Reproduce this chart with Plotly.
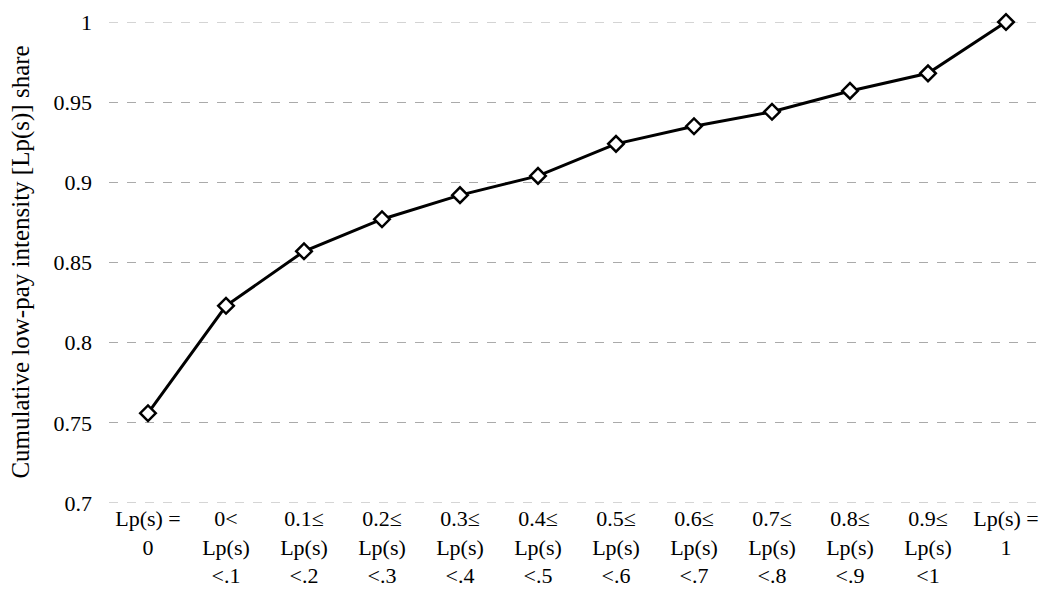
import plotly.graph_objects as go

categories = ["Lp(s) =<br>0", "0<<br>Lp(s)<br><.1", "0.1≤<br>Lp(s)<br><.2", "0.2≤<br>Lp(s)<br><.3",
              "0.3≤<br>Lp(s)<br><.4", "0.4≤<br>Lp(s)<br><.5", "0.5≤<br>Lp(s)<br><.6", "0.6≤<br>Lp(s)<br><.7",
              "0.7≤<br>Lp(s)<br><.8", "0.8≤<br>Lp(s)<br><.9", "0.9≤<br>Lp(s)<br><1", "Lp(s) =<br>1"]
values = [0.756, 0.823, 0.857, 0.877, 0.892, 0.904, 0.924, 0.935, 0.944, 0.957, 0.968, 1.0]
y_ticks = [0.7, 0.75, 0.8, 0.85, 0.9, 0.95, 1.0]
y_ticklabels = ["0.7", "0.75", "0.8", "0.85", "0.9", "0.95", "1"]
y_title = "Cumulative low-pay intensity [Lp(s)] share"
y_min, y_max = 0.7, 1.0

x_idx = list(range(len(categories)))
FONT = "Liberation Serif"

fig = go.Figure()
fig.add_trace(go.Scatter(
    x=x_idx, y=values, mode="lines+markers",
    line=dict(color="black", width=3),
    marker=dict(symbol="diamond", size=12, color="white", line=dict(color="black", width=2.5)),
    showlegend=False, cliponaxis=False,
))

# page body has an 8px margin, so the figure is offset by 8px in the window
fig.update_layout(
    width=1039, height=595,
    margin=dict(l=101, r=2, t=11, b=100),
    paper_bgcolor="white", plot_bgcolor="white",
    font=dict(family=FONT, size=22, color="black"),
    xaxis=dict(
        tickmode="array", tickvals=x_idx, ticktext=categories,
        range=[-0.5, len(categories) - 0.5],
        showgrid=False, zeroline=False, showline=False, ticks="",
        tickfont=dict(size=22, family=FONT, color="black"),
    ),
    yaxis=dict(
        range=[y_min, y_max], tickmode="array", tickvals=y_ticks, ticktext=y_ticklabels,
        showgrid=True, gridcolor="#aaaaaa", griddash="dash", gridwidth=1,
        zeroline=False, showline=False, ticks="", ticklen=0,
        ticklabeloverflow="allow", ticklabelstandoff=16,
        tickfont=dict(size=22, family=FONT, color="black"),
    ),
)
# edge gridlines (plotly omits gridlines at the range ends)
for yv in (y_min, y_max):
    fig.add_shape(type="line", xref="paper", yref="y", x0=0, x1=1, y0=yv, y1=yv,
                  line=dict(color="#aaaaaa", width=1, dash="dash"), layer="between")
fig.add_annotation(
    text=y_title, textangle=-90, xref="paper", yref="paper",
    x=-0.095, y=0.5, xanchor="center", yanchor="middle", showarrow=False,
    font=dict(size=25, family=FONT, color="black"),
)

fig.write_html("out.html")
